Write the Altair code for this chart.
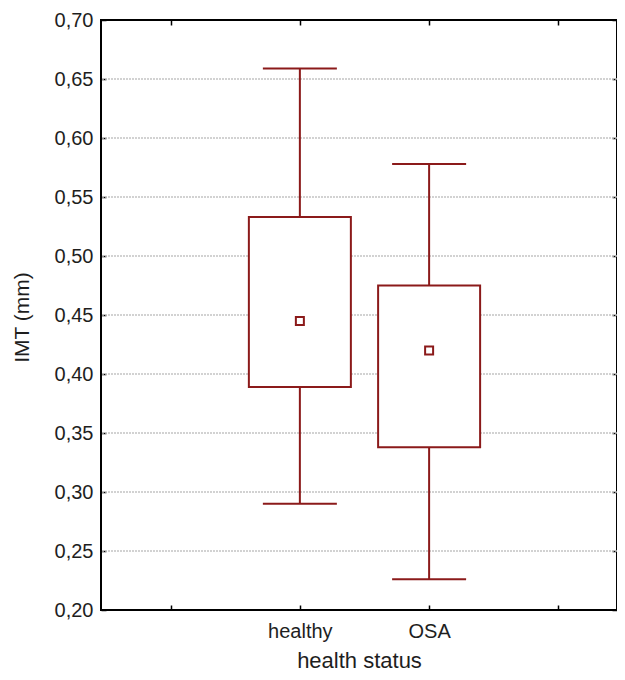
import altair as alt
import pandas as pd

# ---- data ----
groups = ["healthy", "OSA"]
group_pos = [1.5, 2.5]
means = [0.445, 0.420]
box_low = [0.389, 0.338]
box_high = [0.533, 0.475]
whisk_low = [0.290, 0.226]
whisk_high = [0.659, 0.578]

x_ticks = [0.5, 1.5, 2.5, 3.5]
y_ticks = [0.20, 0.25, 0.30, 0.35, 0.40, 0.45, 0.50, 0.55, 0.60, 0.65, 0.70]

df = pd.DataFrame({
    "group": groups, "pos": group_pos, "mean": means,
    "blo": box_low, "bhi": box_high, "wlo": whisk_low, "whi": whisk_high,
})
caps = pd.DataFrame({
    "pos": group_pos + group_pos,
    "v": whisk_low + whisk_high,
})
grid_df = pd.DataFrame({"v": y_ticks[1:-1]})

RED = "#8b1a1a"
FONT = "Liberation Sans"
TXT = "#1e1e1e"

xs = alt.Scale(domain=[0, 3.915], nice=False, zero=False)
ys = alt.Scale(domain=[0.2, 0.7], nice=False, zero=False)

label_expr = " : ".join(
    f"datum.value == {p} ? '{g}'" for p, g in zip(group_pos, groups)
) + " : ''"
y_label_expr = "replace(format(datum.value, '.2f'), '.', ',')"

x_bottom = alt.Axis(
    orient="bottom", values=x_ticks, labelExpr=label_expr, title="health status",
    offset=-5, tickSize=5, tickWidth=1.5, tickColor="black", domain=False, grid=False,
    labelPadding=11, labelFontSize=20, labelColor=TXT, labelFont=FONT,
    titleFontSize=22, titleFont=FONT, titleColor=TXT, titleFontWeight="normal",
    titleBaseline="alphabetic", titleY=62,
)
y_left = alt.Axis(
    orient="left", values=y_ticks, labelExpr=y_label_expr, title="IMT (mm)",
    offset=-5, tickSize=5, tickWidth=1.5, tickColor="black", domain=False, grid=False,
    labelPadding=8, labelFontSize=20, labelColor=TXT, labelFont=FONT,
    titleFontSize=21, titleFont=FONT, titleColor=TXT, titleFontWeight="normal",
    titleAngle=270, titleAlign="center", titleBaseline="alphabetic",
    titleX=-78, titleY=297,
)
x_top = alt.Axis(
    orient="top", values=x_ticks, labels=False, title=None,
    offset=-5, tickSize=5, tickWidth=1.5, tickColor="black", domain=False, grid=False,
)
y_right = alt.Axis(
    orient="right", values=y_ticks, labels=False, title=None,
    offset=-5, tickSize=5, tickWidth=1.5, tickColor="black", domain=False, grid=False,
)

grid = alt.Chart(grid_df).mark_rule(
    color="#c4c4c4", strokeWidth=1.3, strokeDash=[2, 1]
).encode(y=alt.Y("v:Q", scale=ys, axis=None))

whiskers = alt.Chart(df).mark_rule(color=RED, strokeWidth=2).encode(
    x=alt.X("pos:Q", scale=xs, axis=None),
    y=alt.Y("wlo:Q", scale=ys, axis=None),
    y2="whi:Q",
)

boxes = alt.Chart(df).mark_bar(
    size=102, fill="white", stroke=RED, strokeWidth=2
).encode(
    x=alt.X("pos:Q", scale=xs, axis=x_bottom),
    y=alt.Y("blo:Q", scale=ys, axis=y_left),
    y2="bhi:Q",
)

cap_marks = alt.Chart(caps).mark_tick(
    orient="horizontal", size=74, thickness=2, color=RED, opacity=1
).encode(
    x=alt.X("pos:Q", scale=xs, axis=x_top),
    y=alt.Y("v:Q", scale=ys, axis=y_right),
)

mean_marks = alt.Chart(df).mark_square(
    size=64, fill="white", stroke=RED, strokeWidth=2, opacity=1, filled=False
).encode(
    x=alt.X("pos:Q", scale=xs, axis=None),
    y=alt.Y("mean:Q", scale=ys, axis=None),
)

chart = alt.layer(grid, whiskers, boxes, cap_marks, mean_marks).resolve_axis(
    x="independent", y="independent"
).properties(
    width=516, height=590,
    padding={"left": 93, "top": 12, "right": 0, "bottom": 62},
    autosize=alt.AutoSizeParams(type="none"),
    background="white",
).configure_view(
    stroke="black", strokeWidth=2
)

chart.save("out.html", embed_options={"renderer": "svg", "actions": False})
